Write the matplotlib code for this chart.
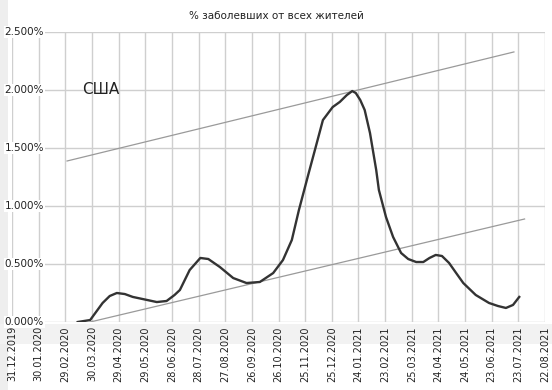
import matplotlib
matplotlib.use("Agg")
import matplotlib.pyplot as plt
from matplotlib.patches import Rectangle

# ─── Data (days since 31.12.2019, % of population infected) ─────────────────
tick_labels = ["31.12.2019", "30.01.2020", "29.02.2020", "30.03.2020", "29.04.2020",
               "29.05.2020", "28.06.2020", "28.07.2020", "27.08.2020", "26.09.2020",
               "26.10.2020", "25.11.2020", "25.12.2020", "24.01.2021", "23.02.2021",
               "25.03.2021", "24.04.2021", "24.05.2021", "23.06.2021", "23.07.2021",
               "22.08.2021"]
y_labels = ["0.000%", "0.500%", "1.000%", "1.500%", "2.000%", "2.500%"]

days = [74, 88, 102, 110, 118, 127, 136, 152, 163, 174, 183, 189, 200, 212, 221,
        234, 249, 264, 279, 294, 305, 315, 323, 334, 341, 350, 361, 369, 377, 383,
        387, 392, 397, 403, 410, 413, 421, 429, 438, 446, 455, 463, 470, 477, 484,
        492, 500, 508, 522, 537, 547, 556, 564, 571]
pct = [0.0, 0.017, 0.164, 0.224, 0.250, 0.241, 0.216, 0.190, 0.172, 0.181, 0.233,
       0.276, 0.448, 0.552, 0.543, 0.474, 0.379, 0.336, 0.345, 0.422, 0.534, 0.707,
       0.966, 1.284, 1.483, 1.741, 1.853, 1.897, 1.957, 1.991, 1.974, 1.914, 1.828,
       1.629, 1.310, 1.138, 0.905, 0.733, 0.595, 0.543, 0.517, 0.517, 0.552, 0.578,
       0.569, 0.509, 0.422, 0.336, 0.233, 0.164, 0.138, 0.121, 0.147, 0.216]

upper_days = [62, 565]
upper_pct = [1.388, 2.328]
lower_days = [88, 577]
lower_pct = [0.0, 0.888]

# ─── Figure ─────────────────────────────────────────────────────────────────
W, H = 552, 390
fig = plt.figure(figsize=(W / 100, H / 100), dpi=100)
fig.patch.set_facecolor("white")

# light grey scan bands (left strip, band under the axis) - behind everything
fig.patches.append(Rectangle((0, 0), 8 / W, 1, transform=fig.transFigure,
                             facecolor="#eeeeee", edgecolor="none", zorder=-1))
fig.patches.append(Rectangle((0, (H - 344) / H), 1, 20 / H, transform=fig.transFigure,
                             facecolor="#f2f2f2", edgecolor="none", zorder=-1))

ax = fig.add_axes([12 / W, (H - 322) / H, 533 / W, 290 / H])
ax.set_facecolor("none")
ax.set_xlim(0, 600)
ax.set_ylim(0, 2.5)
for s in ax.spines.values():
    s.set_visible(False)

ax.set_xticks([i * 30 for i in range(len(tick_labels))])
ax.set_xticklabels(tick_labels, rotation=90, fontsize=7, color="#222222")
ax.set_yticks([i * 0.5 for i in range(len(y_labels))])
ax.set_yticklabels([])
ax.tick_params(length=0, pad=3)
ax.grid(True, color="#cfcfcf", lw=1.0)
ax.set_axisbelow(True)

# y labels sit inside the plot with white background
for i, lab in enumerate(y_labels):
    ax.text(32 / 533, i * 0.5, lab, transform=ax.get_yaxis_transform(),
            ha="right", va="center", fontsize=7.5, color="#222222",
            bbox=dict(facecolor="white", edgecolor="none", pad=0.5), zorder=5,
            clip_on=False)

ax.plot(upper_days, upper_pct, color="#9a9a9a", lw=0.9, zorder=3)
ax.plot(lower_days, lower_pct, color="#9a9a9a", lw=0.9, zorder=3)
ax.plot(days, pct, color="#333333", lw=1.7, zorder=4, solid_joinstyle="round")

ax.text(100, 2.0, "США", fontsize=11, color="#222222", va="center", ha="center")
fig.text(0.5, 1 - 16 / H, "% заболевших от всех жителей", ha="center", va="center",
         fontsize=7.5, color="#222222")

fig.savefig("out.png", dpi=100)
